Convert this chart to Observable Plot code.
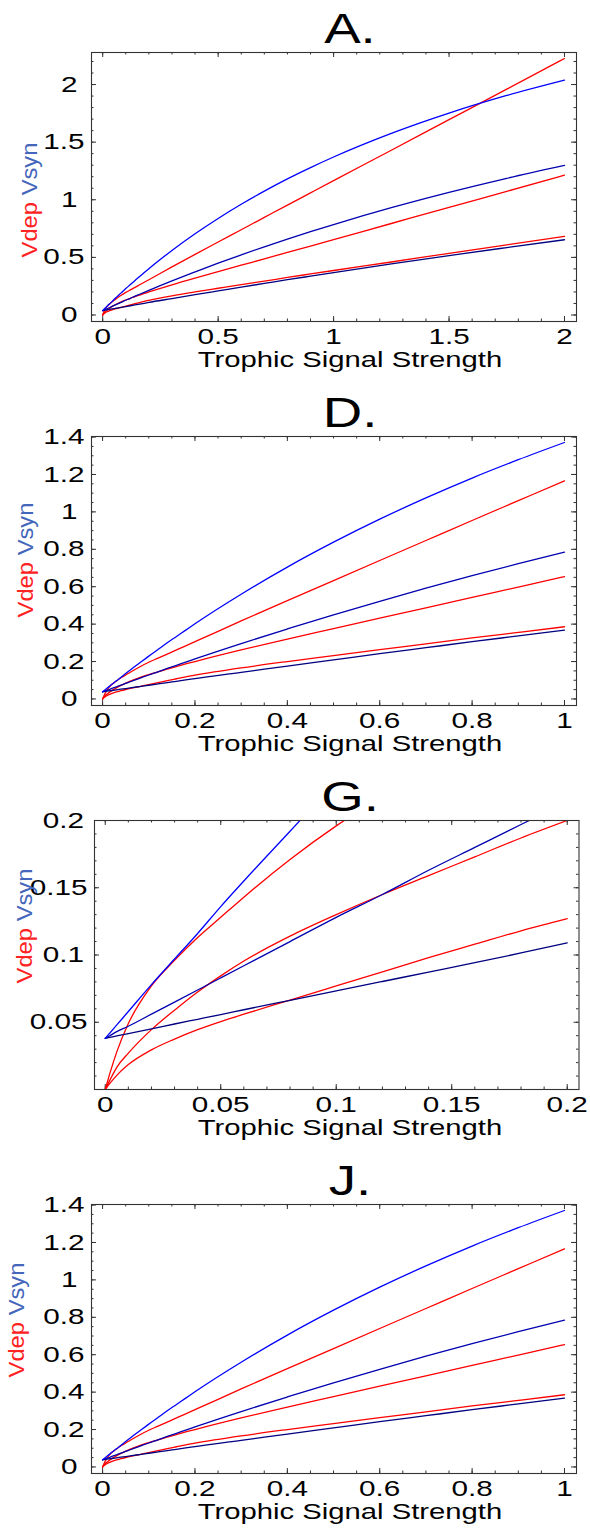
<!DOCTYPE html>
<html>
<head>
<meta charset="utf-8">
<script src="https://cdn.jsdelivr.net/npm/d3@7"></script>
<script src="https://cdn.jsdelivr.net/npm/@observablehq/plot@0.6"></script>
<style>
  body { margin: 0; background: #fff; }
  .panel { width: 590px; height: 384px; position: relative; }
  .title { height: 40px; position: relative; }
  .title span { position: absolute; top: 7.5px; left: 350px; font-family: "Liberation Sans", Arial, sans-serif; font-size: 42px; line-height: 42px; transform: translateX(-50%) scaleX(1.3); white-space: nowrap; color: #000; }
  svg { display: block; }
</style>
</head>
<body>
<div id="chart"></div>
<script>
// ---- Data ----
const xs = [0, 0.002, 0.005, 0.01, 0.02, 0.03, 0.04, 0.05, 0.06, 0.08, 0.1, 0.12, 0.14, 0.16, 0.18, 0.2, 0.3, 0.4, 0.5, 0.6, 0.7, 0.8, 0.9, 1, 1.25, 1.5, 1.75, 2];
const vsynHigh = [0.038, 0.042, 0.048, 0.058, 0.078, 0.097, 0.116, 0.136, 0.155, 0.192, 0.229, 0.264, 0.300, 0.334, 0.368, 0.402, 0.560, 0.705, 0.838, 0.961, 1.075, 1.181, 1.279, 1.371, 1.576, 1.752, 1.905, 2.038];
const vsynMid  = [0.038, 0.040, 0.043, 0.047, 0.056, 0.065, 0.074, 0.083, 0.092, 0.110, 0.128, 0.145, 0.163, 0.180, 0.197, 0.214, 0.296, 0.374, 0.450, 0.522, 0.592, 0.659, 0.723, 0.785, 0.931, 1.064, 1.186, 1.298];
const vsynLow  = [0.038, 0.0387, 0.0398, 0.0416, 0.0451, 0.0487, 0.0522, 0.0557, 0.0593, 0.0663, 0.0733, 0.0803, 0.0873, 0.0943, 0.1015, 0.109, 0.142, 0.176, 0.209, 0.242, 0.274, 0.306, 0.337, 0.368, 0.444, 0.516, 0.585, 0.653];
const vdepHigh = [0, 0.012, 0.028, 0.049, 0.077, 0.096, 0.113, 0.128, 0.143, 0.171, 0.196, 0.218, 0.240, 0.262, 0.284, 0.306, 0.417, 0.526, 0.633, 0.740, 0.847, 0.954, 1.060, 1.166, 1.430, 1.695, 1.960, 2.226];
const vdepMid  = [0, 0.007, 0.0165, 0.027, 0.0445, 0.059, 0.0725, 0.0845, 0.0955, 0.114, 0.130, 0.145, 0.159, 0.173, 0.187, 0.200, 0.262, 0.320, 0.376, 0.432, 0.487, 0.543, 0.598, 0.654, 0.794, 0.934, 1.073, 1.213];
const vdepLow  = [0, 0.0045, 0.0105, 0.0185, 0.0295, 0.0375, 0.0445, 0.0505, 0.056, 0.0665, 0.077, 0.0875, 0.098, 0.108, 0.118, 0.127, 0.166, 0.200, 0.232, 0.264, 0.294, 0.326, 0.356, 0.386, 0.460, 0.535, 0.609, 0.682];

const panelTitles = ["A.", "D.", "G.", "J."];
const ticksA_x = [0, 0.5, 1, 1.5, 2];
const ticksA_y = [0, 0.5, 1, 1.5, 2];
const ticksD_x = [0, 0.2, 0.4, 0.6, 0.8, 1];
const ticksD_y = [0, 0.2, 0.4, 0.6, 0.8, 1, 1.2, 1.4];
const ticksG_x = [0, 0.05, 0.1, 0.15, 0.2];
const ticksG_y = [0.05, 0.1, 0.15, 0.2];
const xLabel = "Trophic Signal Strength";
const yLabelDep = "Vdep";
const yLabelSyn = "Vsyn";

// ---- Styling ----
const FONT = '"Liberation Sans", Arial, Helvetica, sans-serif';
const series = [
  {values: vdepLow,  color: "#ff0000"},
  {values: vdepMid,  color: "#ff0000"},
  {values: vdepHigh, color: "#ff0000"},
  {values: vsynLow,  color: "#000080"},
  {values: vsynMid,  color: "#0000b0"},
  {values: vsynHigh, color: "#0000ff"}
];
const rows = series.map((s, k) => xs.map((x, i) => ({x, y: s.values[i], k})));

function minor(max, step) {
  return d3.range(0, Math.round(max / step) + 1).map(i => +(i * step).toFixed(4));
}

const panels = [
  {xDomain: [-0.0485, 2.052], yDomain: [-0.0565, 2.278], xt: ticksA_x, yt: ticksA_y, xm: minor(2, 0.1), ym: minor(2.2, 0.1), xMax: 2, ml: 91, mr: 14, ylx: 36.5, yly: 160},
  {xDomain: [-0.024, 1.026], yDomain: [-0.035, 1.403], xt: ticksD_x, yt: ticksD_y, xm: minor(1, 0.05), ym: minor(1.4, 0.05), xMax: 1, ml: 91, mr: 14, ylx: 33, yly: 136},
  {xDomain: [-0.00465, 0.2051], yDomain: [0, 0.2], xt: ticksG_x, yt: ticksG_y, xm: minor(0.2, 0.01), ym: minor(0.2, 0.01), xMax: 0.2, ml: 94, mr: 11.5, ylx: 31.5, yly: 118},
  {xDomain: [-0.024, 1.026], yDomain: [-0.035, 1.403], xt: ticksD_x, yt: ticksD_y, xm: minor(1, 0.05), ym: minor(1.4, 0.05), xMax: 1, ml: 91, mr: 14, ylx: 24, yly: 128}
];

const W = 590, H = 344, MT = 12, MB = 63;
const root = document.getElementById("chart");

panels.forEach((p, idx) => {
  const innerH = H - MT - MB;
  const innerW = W - p.ml - p.mr;
  const tickStroke = {stroke: "#333", strokeWidth: 1};
  const marks = [
    Plot.ruleX(p.xm, {insetTop: innerH - 2.5, ...tickStroke}),
    Plot.ruleX(p.xm, {insetBottom: innerH - 2.5, ...tickStroke}),
    Plot.ruleX(p.xt, {insetTop: innerH - 5, ...tickStroke}),
    Plot.ruleX(p.xt, {insetBottom: innerH - 5, ...tickStroke}),
    Plot.ruleY(p.ym, {insetRight: innerW - 2.5, ...tickStroke}),
    Plot.ruleY(p.ym, {insetLeft: innerW - 2.5, ...tickStroke}),
    Plot.ruleY(p.yt, {insetRight: innerW - 5, ...tickStroke}),
    Plot.ruleY(p.yt, {insetLeft: innerW - 5, ...tickStroke}),
    ...series.map((s, k) => Plot.line(rows[k].filter(d => d.x <= p.xMax + 1e-9), {
      x: "x", y: "y", stroke: s.color, strokeWidth: 1.3, curve: "monotone-x", clip: true
    })),
    Plot.frame({stroke: "#333", strokeWidth: 1.1})
  ];
  const svg = Plot.plot({
    width: W, height: H,
    marginLeft: p.ml, marginRight: p.mr, marginTop: MT, marginBottom: MB,
    x: {domain: p.xDomain, ticks: p.xt, tickSize: 0, tickPadding: 7, tickFormat: d => String(d), label: null},
    y: {domain: p.yDomain, ticks: p.yt, tickSize: 0, tickPadding: 7, tickFormat: d => String(d), label: null},
    style: {fontFamily: FONT, fontSize: "22px", background: "transparent", overflow: "visible", color: "#000"},
    marks
  });

  // widen tick label glyphs like the reference
  const maxLen = d3.max(p.yt, d => String(d).length);
  d3.select(svg).selectAll('g[aria-label="x-axis tick label"] text, g[aria-label="y-axis tick label"] text').each(function() {
    const isY = this.parentNode.getAttribute("aria-label").startsWith("y");
    let tr = this.getAttribute("transform");
    if (!tr) {
      const x = this.getAttribute("x") || 0;
      this.removeAttribute("x");
      tr = `translate(${x},0)`;
    }
    const shift = isY ? -(maxLen - this.textContent.length) * 3.5 : 0;
    this.setAttribute("transform", `${tr} translate(${shift},0) scale(1.35,1)`);
  });

  const s = d3.select(svg);
  s.append("text")
    .attr("transform", `translate(350,327) scale(1.36,1)`)
    .attr("text-anchor", "middle")
    .attr("font-size", 21.5)
    .attr("fill", "#000")
    .text(xLabel);
  const yl = s.append("text")
    .attr("transform", `translate(${p.ylx},${p.yly}) rotate(-90) scale(1.08,1)`)
    .attr("text-anchor", "middle")
    .attr("font-size", 22);
  yl.append("tspan").attr("fill", "#ff2222").text(yLabelDep);
  yl.append("tspan").attr("fill", "#4466bb").text(" " + yLabelSyn);

  const div = document.createElement("div");
  div.className = "panel";
  const t = document.createElement("div");
  t.className = "title";
  const span = document.createElement("span");
  span.textContent = panelTitles[idx];
  t.appendChild(span);
  div.appendChild(t);
  div.appendChild(svg);
  root.appendChild(div);
});
</script>
</body>
</html>
